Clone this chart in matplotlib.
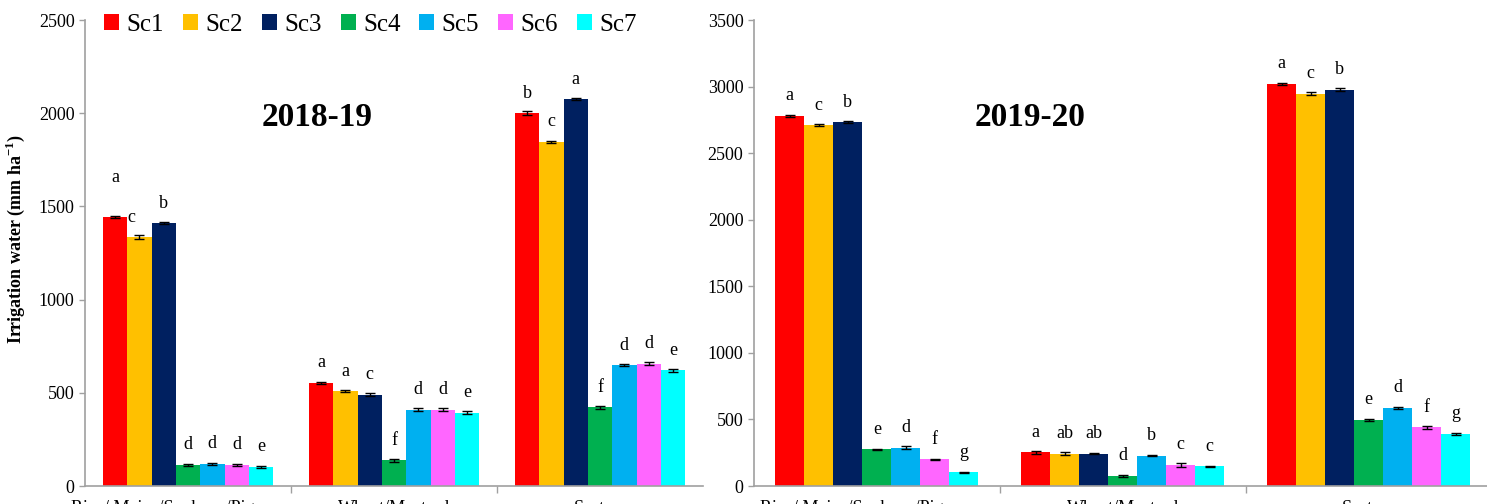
import numpy as np
from matplotlib import pyplot as plt

plt.rcParams['font.family'] = ['Liberation Serif', 'DejaVu Serif']

# crop groups and scenarios
categories = ["Rice/ Maize/Soybean/Pigeonpea", "Wheat/Mustard", "System"]
scenarios = ["Sc1", "Sc2", "Sc3", "Sc4", "Sc5", "Sc6", "Sc7"]
colors = ["#FF0000", "#FFC000", "#002060", "#00B050", "#00B0F0", "#FF66FF", "#00FFFF"]

# 2018-19 irrigation water (mm/ha), rows = categories, cols = Sc1..Sc7
water_1819 = [[1445, 1335, 1410, 113, 118, 113, 103],
              [553, 508, 490, 138, 410, 410, 393],
              [2000, 1845, 2075, 422, 647, 655, 620]]
err_1819 = [[6, 10, 5, 4, 5, 4, 5],
            [6, 5, 8, 8, 6, 8, 7],
            [10, 6, 6, 8, 5, 8, 7]]
letters_1819 = [["a", "c", "b", "d", "d", "d", "e"],
                ["a", "a", "c", "f", "d", "d", "e"],
                ["b", "c", "a", "f", "d", "d", "e"]]

# 2019-20
water_1920 = [[2778, 2710, 2732, 275, 287, 200, 102],
              [252, 242, 243, 75, 228, 158, 148],
              [3022, 2948, 2978, 497, 586, 440, 392]]
err_1920 = [[8, 6, 8, 6, 10, 5, 6],
            [8, 12, 6, 4, 6, 12, 6],
            [8, 10, 8, 5, 5, 12, 6]]
letters_1920 = [["a", "c", "b", "e", "d", "f", "g"],
                ["a", "ab", "ab", "d", "b", "c", "c"],
                ["a", "c", "b", "e", "d", "f", "g"]]


def draw_panel(ax, water, err, letters, title, ymax, special=None):
    water = np.array(water)
    err = np.array(err)
    x = np.arange(len(categories))
    w = 0.118
    for j, sc in enumerate(scenarios):
        xs = x + (j - 3) * w
        ax.bar(xs, water[:, j], w, color=colors[j], label=sc, zorder=2)
        ax.errorbar(xs, water[:, j], yerr=err[:, j], fmt='none', ecolor='black',
                    elinewidth=1, capsize=3.5, capthick=1, zorder=3)
        for i in range(len(categories)):
            dy, dx = 14.5, 0
            if special and (i, j) in special:
                dx, dy = special[(i, j)]
            ax.annotate(letters[i][j], (xs[i], water[i, j]), xytext=(dx, dy),
                        textcoords='offset points', ha='center', va='center',
                        fontsize=13)
    ax.set_xlim(-0.5, 2.5)
    ax.set_ylim(0, ymax)
    ax.set_yticks(np.arange(0, ymax + 1, 500))
    ax.tick_params(axis='y', labelsize=13, length=4, color='#A0A0A0', width=1)
    # category boundaries as ticks, names at centres
    ax.set_xticks([0.5, 1.5])
    ax.set_xticklabels([])
    ax.tick_params(axis='x', which='major', length=5, color='#A0A0A0', width=1)
    ax.set_xticks(x, minor=True)
    ax.set_xticklabels(categories, minor=True, fontsize=13)
    ax.tick_params(axis='x', which='minor', length=0, pad=10)
    for s in ['top', 'right']:
        ax.spines[s].set_visible(False)
    for s in ['left', 'bottom']:
        ax.spines[s].set_color('#A0A0A0')
        ax.spines[s].set_linewidth(1.2)
    ax.text(0.375, 0.79, title, transform=ax.transAxes, ha='center', va='center',
            fontsize=24, fontweight='bold')


fig = plt.figure(figsize=(14.87, 5.04), dpi=100)
ax1 = fig.add_axes([0.0572, 0.0357, 0.4156, 0.9246])
ax2 = fig.add_axes([0.507, 0.0357, 0.496, 0.9246])

draw_panel(ax1, water_1819, err_1819, letters_1819, "2018-19", 2500,
           special={(0, 0): (0, 28.5), (0, 1): (-6, 14.5)})
draw_panel(ax2, water_1920, err_1920, letters_1920, "2019-20", 3500)

ax1.set_ylabel("Irrigation water (mm ha$^{\\mathregular{-1}}$)", fontsize=13,
               fontweight='bold')
ax1.yaxis.set_label_coords(-0.094, 0.53)

ax1.legend(loc='upper left', bbox_to_anchor=(0.015, 1.035), ncol=7, frameon=False,
           fontsize=18, handlelength=0.6, handleheight=0.6, handletextpad=0.3,
           columnspacing=0.75, borderaxespad=0)

fig.savefig("out.png", dpi=100)
